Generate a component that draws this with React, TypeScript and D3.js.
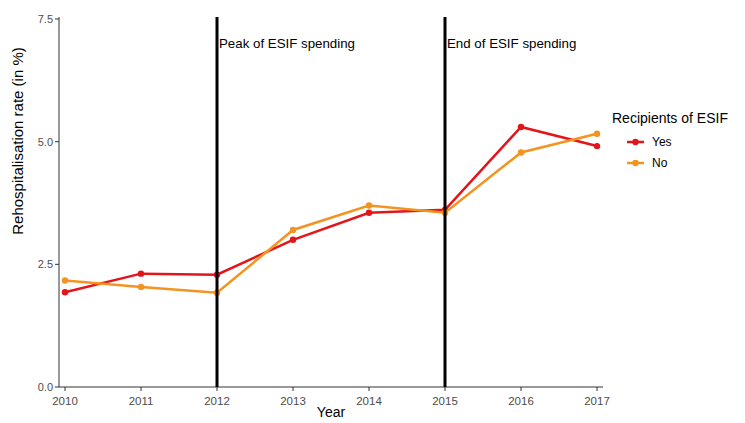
import React from "react";
import * as d3 from "d3";

const years = [2010, 2011, 2012, 2013, 2014, 2015, 2016, 2017];
const yesValues = [1.93, 2.31, 2.29, 3.0, 3.55, 3.61, 5.3, 4.91];
const noValues = [2.17, 2.04, 1.92, 3.2, 3.7, 3.55, 4.78, 5.16];
const yTicks = [0, 2.5, 5, 7.5];
const events = [
  { year: 2012, label: "Peak of ESIF spending" },
  { year: 2015, label: "End of ESIF spending" },
];
const series = [
  { name: "Yes", values: yesValues, color: "#e4141b" },
  { name: "No", values: noValues, color: "#f39421" },
];

const width = 745;
const height = 423;
const margin = { top: 19, right: 142, bottom: 36, left: 59 };

export default function App() {
  const x = d3
    .scaleLinear()
    .domain([2010, 2017])
    .range([margin.left + 6, width - margin.right - 6]);
  const y = d3
    .scaleLinear()
    .domain([0, 7.5])
    .range([height - margin.bottom, margin.top]);

  const line = d3
    .line<number>()
    .x((_d, i) => x(years[i]))
    .y((d) => y(d));

  const font = "'Liberation Sans', Arial, sans-serif";
  const x0 = margin.left;
  const x1 = width - margin.right;
  const yBottom = height - margin.bottom;

  return (
    <svg
      width={width}
      height={height}
      style={{ position: "absolute", left: 0, top: 0, background: "white" }}
      fontFamily={font}
    >
      {/* axes */}
      <line x1={x0} x2={x0} y1={margin.top - 2} y2={yBottom} stroke="#333" />
      <line x1={x0} x2={x1} y1={yBottom} y2={yBottom} stroke="#333" />
      {yTicks.map((t) => (
        <g key={t}>
          <line x1={x0 - 4} x2={x0} y1={y(t)} y2={y(t)} stroke="#333" />
          <text
            x={x0 - 6}
            y={y(t)}
            dy="0.35em"
            textAnchor="end"
            fontSize={11}
            fill="#4d4d4d"
          >
            {t.toFixed(1)}
          </text>
        </g>
      ))}
      {years.map((yr) => (
        <g key={yr}>
          <line x1={x(yr)} x2={x(yr)} y1={yBottom} y2={yBottom + 4} stroke="#333" />
          <text
            x={x(yr)}
            y={yBottom + 18}
            textAnchor="middle"
            fontSize={11.5}
            fill="#4d4d4d"
          >
            {yr}
          </text>
        </g>
      ))}
      <text x={(x0 + x1) / 2} y={height - 6} textAnchor="middle" fontSize={14}>
        Year
      </text>
      <text
        transform={`translate(23, 141) rotate(-90)`}
        textAnchor="middle"
        fontSize={15}
      >
        Rehospitalisation rate (in %)
      </text>

      {/* series */}
      {series.map((s) => (
        <g key={s.name}>
          <path d={line(s.values) ?? ""} fill="none" stroke={s.color} strokeWidth={2.5} />
          {s.values.map((v, i) => (
            <circle key={i} cx={x(years[i])} cy={y(v)} r={3.2} fill={s.color} />
          ))}
        </g>
      ))}

      {/* event lines */}
      {events.map((e) => (
        <g key={e.year}>
          <line
            x1={x(e.year)}
            x2={x(e.year)}
            y1={margin.top - 2}
            y2={yBottom}
            stroke="black"
            strokeWidth={3}
          />
          <text x={x(e.year) + 2} y={y(7) + 4} fontSize={13.3} fill="black">
            {e.label}
          </text>
        </g>
      ))}

      {/* legend */}
      <text x={612} y={123} fontSize={14}>
        Recipients of ESIF
      </text>
      {series.map((s, i) => (
        <g key={s.name} transform={`translate(627, ${142 + i * 21})`}>
          <line x1={0} x2={17} y1={0} y2={0} stroke={s.color} strokeWidth={2.5} />
          <circle cx={8.5} cy={0} r={3.2} fill={s.color} />
          <text x={25} y={0} dy="0.35em" fontSize={12}>
            {s.name}
          </text>
        </g>
      ))}
    </svg>
  );
}
